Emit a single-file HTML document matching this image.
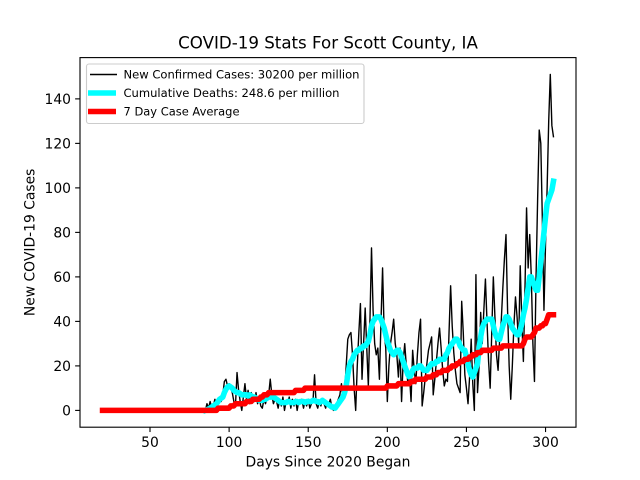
<!DOCTYPE html>
<html>
<head>
<meta charset="utf-8">
<title>COVID-19 Stats For Scott County, IA</title>
<style>
html,body{margin:0;padding:0;background:#fff;}
svg{display:block;font-family:"DejaVu Sans","Liberation Sans",sans-serif;}
</style>
</head>
<body>
<svg id="chart" width="640" height="480" viewBox="0 0 640 480" xmlns="http://www.w3.org/2000/svg">
  <rect x="0" y="0" width="640" height="480" fill="#fff"/>
  <text x="328" y="48.5" font-size="16.67" text-anchor="middle" fill="#000">COVID-19 Stats For Scott County, IA</text>
  <text x="328" y="466.5" font-size="13.89" text-anchor="middle" fill="#000">Days Since 2020 Began</text>
  <text x="0" y="0" transform="translate(34.5,242.4) rotate(-90)" font-size="13.89" text-anchor="middle" fill="#000">New COVID-19 Cases</text>
  <g id="ticks"></g>
  <g id="series"></g>
  <rect x="80" y="57.6" width="496" height="369.6" fill="none" stroke="#000" stroke-width="1.11"/>
  <g>
    <rect x="86.5" y="64" width="277.5" height="59.5" rx="2.5" fill="#fff" fill-opacity="0.8" stroke="#ccc" stroke-width="1.11"/>
    <line x1="90" x2="117" y1="74.5" y2="74.5" stroke="#000" stroke-width="1.39"/>
    <text x="123.5" y="78.3" font-size="11.57" fill="#000" textLength="236" lengthAdjust="spacingAndGlyphs">New Confirmed Cases: 30200 per million</text>
    <line x1="88" x2="116" y1="93" y2="93" stroke="#00ffff" stroke-width="5.56"/>
    <text x="123.5" y="96.8" font-size="11.57" fill="#000" textLength="216" lengthAdjust="spacingAndGlyphs">Cumulative Deaths: 248.6 per million</text>
    <line x1="88" x2="116" y1="111.5" y2="111.5" stroke="#ff0000" stroke-width="5.56"/>
    <text x="123.5" y="115.6" font-size="11.57" fill="#000" textLength="116" lengthAdjust="spacingAndGlyphs">7 Day Case Average</text>
  </g>
</svg>
<script>
var xTicks = [50, 100, 150, 200, 250, 300];
var yTicks = [0, 20, 40, 60, 80, 100, 120, 140];
var casesFirstDay = 85;
var deathsFirstDay = 85;
var averageFirstDay = 20;
var newCases = [
  0,3,1,4,1,
  2,5,2,5,6,4,7,13,14,11,
  12,10,8,4,2,17,9,4,0,6,
  12,5,9,3,8,5,4,8,3,6,
  2,1,5,3,6,7,14,7,3,5,
  4,1,5,2,6,0,4,3,6,1,
  5,2,5,0,4,3,5,1,4,2,
  5,1,3,4,16,3,1,4,2,5,
  3,1,4,3,5,1,0,2,3,5,
  7,12,5,8,20,32,34,35,25,10,
  0,20,35,48,14,30,46,28,11,40,
  73,45,30,25,28,14,40,64,35,28,
  4,20,30,35,41,30,25,15,28,4,
  22,30,20,12,16,4,27,18,12,25,
  35,41,2,8,15,21,27,30,33,7,
  14,22,30,37,28,18,11,14,13,35,
  56,38,26,18,12,10,8,49,35,16,
  10,3,15,32,12,0,61,8,20,44,
  30,45,59,40,22,10,35,60,42,25,
  18,32,40,55,68,79,45,20,5,20,
  38,51,42,30,65,40,22,55,91,64,
  79,60,30,13,60,95,126,120,85,45,
  75,100,130,151,128,123
];
var deaths = [
  0,0.3,0.6,1,1.5,
  2,2.5,3,4,5,5.5,6,8,9.5,10.5,
  11,10.5,10,9,8.5,8,8,7.5,7,7,
  7,7,6.5,7,6.5,6,6,5.5,5,4.5,
  4.5,4.5,5,5,5.5,6,6,6,6,5.5,
  5,4.5,4,3.5,3.5,3.5,3.5,4,4,3.5,
  3.5,3.5,4,4,3.5,4,4,4,3.5,4,
  4,4,4,4.5,4.5,4,4,3.5,4,4.5,
  4,3.5,3,2.5,2,1.5,1.5,1,2,3,
  4,5,6,8,11,16,20,22,23,25,
  26,27,27,28,28,29,29,30,31,34,
  38,40,41,42,42,42,41,39,37,34,
  31,29,27,26,25,26,27,27,26,24,
  22,20,18,16,15,16,18,19,19,19,
  20,20,19,18,18,18,19,20,21,21,
  21,22,22,23,23,23,23,25,26,28,
  29,30,31,32,32,31,29,28,27,27,
  24,21,18,16,15,17,19,21,28,33,
  37,39,40,41,41,41,41,38,35,33,
  32,32,35,38,40,42,42,41,39,37,
  36,35,34,34,36,39,43,46,50,55,
  60,60,58,56,54,54,60,67,73,80,
  87,93,95,97,99,103
];
var average = [
  0,0,0,0,0,0,0,0,0,0,
  0,0,0,0,0,0,0,0,0,0,
  0,0,0,0,0,0,0,0,0,0,
  0,0,0,0,0,0,0,0,0,0,
  0,0,0,0,0,0,0,0,0,0,
  0,0,0,0,0,0,0,0,0,0,
  0,0,0,0,0,0,0,0,0,0,
  0,0,0,
  1,1,1,1,1,1,1,
  1,2,2,2,3,3,3,3,3,3,
  3,4,4,4,4,5,5,5,5,5,
  6,6,7,7,7,8,8,8,8,8,
  8,8,8,8,8,8,8,8,8,8,
  8,8,9,9,9,9,9,9,10,10,
  10,10,10,10,10,10,10,10,10,10,
  10,10,10,10,10,10,10,10,10,10,
  10,10,10,10,10,10,10,10,10,10,
  10,10,10,10,10,10,10,10,10,10,
  10,10,10,10,10,10,10,10,10,10,
  11,11,11,11,11,11,11,12,12,12,
  12,12,12,12,12,13,13,13,14,14,
  14,14,14,14,14,15,15,15,15,16,
  16,16,17,17,17,18,18,18,18,19,
  19,20,20,20,21,21,22,22,22,23,
  23,23,24,24,25,25,25,26,26,26,
  27,27,27,27,27,27,27,28,28,28,
  28,28,28,29,29,29,29,29,29,29,
  29,29,29,29,29,29,30,32,33,33,
  33,33,34,35,37,37,37,38,38,39,
  39,41,43,43,43,43
];

var SVG_NS = 'http://www.w3.org/2000/svg';
var plotLeft = 80, plotRight = 576, plotTop = 57.6, plotBottom = 427.2;

function dayRange() {
  var lo = Math.min(casesFirstDay, deathsFirstDay, averageFirstDay);
  var hi = Math.max(casesFirstDay + newCases.length - 1, deathsFirstDay + deaths.length - 1, averageFirstDay + average.length - 1);
  var m = (hi - lo) * 0.05;
  return [lo - m, hi + m];
}
function valueRange() {
  var all = newCases.concat(deaths, average);
  var lo = Math.min.apply(null, all), hi = Math.max.apply(null, all);
  var m = (hi - lo) * 0.05;
  return [lo - m, hi + m];
}
var xDomain = dayRange();
var yDomain = valueRange();
function xScale(d) {
  return plotLeft + (d - xDomain[0]) / (xDomain[1] - xDomain[0]) * (plotRight - plotLeft);
}
function yScale(v) {
  return plotBottom - (v - yDomain[0]) / (yDomain[1] - yDomain[0]) * (plotBottom - plotTop);
}
function make(tag, attrs) {
  var el = document.createElementNS(SVG_NS, tag);
  for (var k in attrs) { el.setAttribute(k, attrs[k]); }
  return el;
}
function drawSeries(values, firstDay, color, width, name) {
  var pts = values.map(function (v, i) {
    return xScale(firstDay + i).toFixed(2) + ',' + yScale(v).toFixed(2);
  });
  var line = make('polyline', {
    points: pts.join(' '),
    fill: 'none',
    stroke: color,
    'stroke-width': width,
    'stroke-linejoin': 'round',
    'stroke-linecap': 'square'
  });
  
  
  document.getElementById('series').appendChild(line);
}
function drawTicks() {
  var g = document.getElementById('ticks');
  xTicks.forEach(function (t) {
    var x = xScale(t);
    var tick = make('line', { x1: x, x2: x, y1: plotBottom, y2: plotBottom + 4.86, stroke: '#000', 'stroke-width': 1.11 });
    
    
    g.appendChild(tick);
    var label = make('text', { x: x, y: 447, 'font-size': 13.89, 'text-anchor': 'middle', fill: '#000' });
    label.textContent = t;
    
    
    g.appendChild(label);
  });
  yTicks.forEach(function (t) {
    var y = yScale(t);
    var tick = make('line', { x1: plotLeft - 4.86, x2: plotLeft, y1: y, y2: y, stroke: '#000', 'stroke-width': 1.11 });
    
    
    g.appendChild(tick);
    var label = make('text', { x: 71, y: y + 5.2, 'font-size': 13.89, 'text-anchor': 'end', fill: '#000' });
    label.textContent = t;
    
    
    g.appendChild(label);
  });
}
drawTicks();
drawSeries(newCases, casesFirstDay, '#000000', 1.39, 'new-cases-line');
drawSeries(deaths, deathsFirstDay, '#00ffff', 5.56, 'cumulative-deaths-line');
drawSeries(average, averageFirstDay, '#ff0000', 5.56, 'seven-day-average-line');
</script>
</body>
</html>
